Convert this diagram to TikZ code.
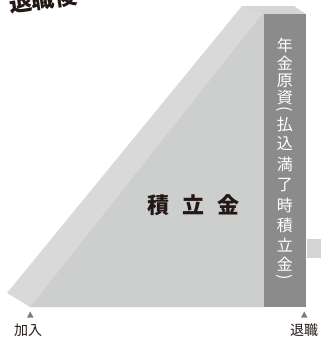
\documentclass[tikz,border=0pt]{standalone}
\usepackage{fontspec}
\usepackage{graphicx}
\newfontfamily\cjk{Noto Sans CJK JP}
\definecolor{leftface}{HTML}{D9D9D9}
\definecolor{frontface}{HTML}{CDCECE}
\definecolor{topface}{HTML}{D5D5D5}
\definecolor{colface}{HTML}{8B8B8B}
\definecolor{blockface}{HTML}{D4D4D4}
\definecolor{marker}{HTML}{7D7D7D}
\definecolor{ink}{HTML}{231815}
\tikzset{
  lbl/.style={font=\cjk\fontsize{14}{14}\selectfont, text=ink, inner sep=0pt},
  coltext/.style={font=\cjk\fontsize{16}{16}\selectfont, text=white, inner sep=0pt},
  tri/.style={fill=marker, draw=none},
}
\newcommand\vopen{\rotatebox[origin=c]{-90}{(}}
\newcommand\vclose{\rotatebox[origin=c]{-90}{)}}
\begin{document}
\begin{tikzpicture}[x=1pt,y=-1pt]
\useasboundingbox (0,0) rectangle (321,340);
% faces
\fill[leftface] (7,293) -- (242,6) -- (262,14) -- (30,307) -- cycle;
\fill[topface] (242,6) -- (294,6) -- (305.7,14) -- (262,14) -- cycle;
\fill[frontface] (30,307) -- (262,14) -- (264.3,14) -- (264.3,307) -- cycle;
\fill[colface] (264.3,14) rectangle (305.7,307);
\fill[blockface] (306.7,239) rectangle (321,258);
% texts
\node[font=\cjk\bfseries\fontsize{23}{23}\selectfont, text=ink, rotate=8, inner sep=0pt] (after) at (43,-1) {退職後};
\node[font=\cjk\bfseries\fontsize{22}{22}\selectfont, text=ink, inner sep=0pt] (fund) at (193.5,205) {積\hspace{13pt}立\hspace{13pt}金};
\foreach \ch/\yy [count=\i] in {年/45.5, 金/63, 原/80.5, 資/97.5, \vopen/110, 払/124, 込/144,
    満/164.5, 了/185, 時/205, 積/225, 立/245, 金/264.5, \vclose/278}
  \node[coltext] (pension\i) at (284.8,\yy) {\ch};
% markers and labels
\fill[tri] (27,317.5) -- (33.5,317.5) -- (30.25,311.5) -- cycle;
\fill[tri] (301,317.5) -- (307.5,317.5) -- (304.25,311.5) -- cycle;
\node[lbl] (join) at (28,330) {加入};
\node[lbl] (retire) at (304,330) {退職};
\end{tikzpicture}
\end{document}
